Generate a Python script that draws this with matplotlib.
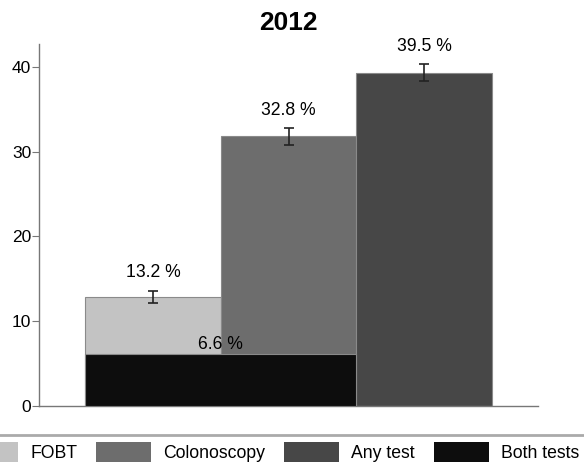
import matplotlib.pyplot as plt
from matplotlib.lines import Line2D
from matplotlib.patches import Patch

plt.rcParams['font.family'] = ['Liberation Sans', 'DejaVu Sans']

# data
tests = ['FOBT', 'Colonoscopy', 'Any test']
heights = [12.9, 31.8, 39.3]
errors = [0.7, 1.0, 1.0]
labels = ['13.2 %', '32.8 %', '39.5 %']
both_height = 6.1
both_label = '6.6 %'
legend_names = ['FOBT', 'Colonoscopy', 'Any test', 'Both tests']

colors = ['#c3c3c3', '#6d6d6d', '#474747']
both_color = '#0d0d0d'
edge = '#8a8a8a'

fig = plt.figure(figsize=(5.84, 4.62), dpi=100)
ax = fig.add_axes([39 / 584, 1 - 406 / 462, 499 / 584, 362 / 462])

x = list(range(len(tests)))
ax.bar(x, heights, width=1.0, color=colors, edgecolor=edge, linewidth=0.8, zorder=2)
ax.errorbar(x, heights, yerr=errors, fmt='none', ecolor='#222222',
            elinewidth=1.2, capsize=3.5, capthick=1.2, zorder=4)

# both tests bar spans the first two bars
ax.bar(0.5, both_height, width=2.0, color=both_color, edgecolor=edge,
       linewidth=0.8, zorder=3)

for xi, h, e, lab in zip(x, heights, errors, labels):
    ax.text(xi, h + e + 2.1, lab, ha='center', va='center', fontsize=12.7, zorder=5)
ax.text(0.5, both_height + 1.2, both_label, ha='center', va='center',
        fontsize=12.7, zorder=5)

ax.set_xlim(-0.84, 2.84)
ax.set_ylim(0, 42.7)
ax.set_yticks([0, 10, 20, 30, 40])
ax.set_xticks([])
ax.tick_params(axis='y', labelsize=12.5, length=5, color='#777777', pad=0.5)
for s in ['top', 'right']:
    ax.spines[s].set_visible(False)
for s in ['left', 'bottom']:
    ax.spines[s].set_color('#777777')
    ax.spines[s].set_linewidth(1.0)

ax.set_title('2012', fontsize=19, fontweight='bold', pad=10)

# separator line above the legend
fig.add_artist(Line2D([0, 1], [1 - 435 / 462, 1 - 435 / 462], transform=fig.transFigure,
                      color='#aaaaaa', linewidth=2))

handles = [Patch(facecolor=c) for c in colors + [both_color]]
fig.legend(handles, legend_names, loc='upper left', ncol=4,
           bbox_to_anchor=(-37 / 584, 1 - 442 / 462), frameon=False,
           fontsize=12.7, handlelength=3.12, handleheight=1.4,
           handletextpad=0.68, columnspacing=1.08, borderpad=0, borderaxespad=0)

plt.savefig('out.png', dpi=100)
